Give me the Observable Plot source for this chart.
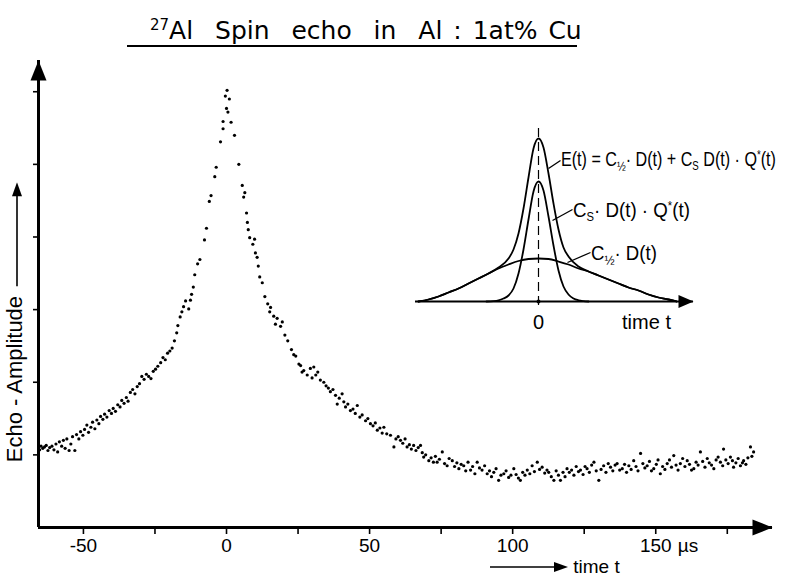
<!DOCTYPE html>
<html><head><meta charset="utf-8">
<script src="https://cdn.jsdelivr.net/npm/d3@7"></script>
<script src="https://cdn.jsdelivr.net/npm/@observablehq/plot@0.6"></script>
<style>
body{margin:0;background:#fff;}
#wrap{position:relative;width:788px;height:579px;overflow:hidden;font-family:"Liberation Sans",Arial,sans-serif;color:#000;background:#fff;}
#wrap svg.plot{position:absolute;overflow:visible;}
.lbl{position:absolute;white-space:nowrap;line-height:1;transform-origin:0 50%;}
sub{font-size:12px;vertical-align:-4px;}
sub.h{font-size:13px;vertical-align:-5px;}
sup{font-size:12px;vertical-align:7px;}
</style></head><body><div id="wrap"></div>
<script>
// ---- main data: echo amplitude (tick units) vs time (µs) ----
const leftT = [-65.3,-64.8,-64.2,-63.6,-63.0,-62.4,-61.8,-61.0,-60.3,-59.6,-59.0,-58.4,-57.6,-57.0,-56.4,-55.8,-55.0,-54.4,-53.8,-53.0,-52.4,-51.6,-51.0,-50.2,-49.6,-48.8,-48.2,-47.4,-46.8,-46.0,-45.3,-44.6,-44.0,-43.2,-42.6,-41.8,-41.0,-40.2,-39.6,-38.8,-38.0,-37.2,-36.6,-35.8,-35.0,-34.4,-33.6,-32.8,-32.0,-31.2,-30.4,-29.6,-28.8,-28.0,-27.2,-26.4,-25.6,-24.8,-24.0,-23.0,-22.2,-21.4,-20.6,-19.8,-19.0,-18.2,-17.4,-17.0,-16.2,-15.6,-15.0,-14.3];
const leftA = [1.07,1.12,1.09,1.11,1.13,1.06,1.10,1.12,1.07,1.15,1.04,1.18,1.12,1.20,1.09,1.22,1.06,1.15,1.25,1.06,1.28,1.22,1.32,1.27,1.35,1.41,1.31,1.38,1.45,1.36,1.48,1.43,1.53,1.49,1.56,1.52,1.61,1.57,1.64,1.60,1.69,1.66,1.75,1.71,1.79,1.74,1.86,1.90,1.84,1.94,1.98,2.08,2.04,2.11,2.08,2.05,2.15,2.18,2.22,2.27,2.34,2.31,2.40,2.43,2.47,2.57,2.68,2.78,2.90,2.97,3.04,3.12];
const peakT = [-13.2,-12.6,-12.2,-11.6,-11.1,-10.1,-9.3,-7.7,-7.0,-6.0,-5.4,-4.1,-3.6,-2.1,-1.2,-1.2,0.0,0.5,-0.4,0.2,1.0,1.6,2.8,4.3,5.5,6.0,6.4,7.0,7.3,7.6,8.1,9.2,9.8,10.1,10.7,11.1,11.6,12.5,13.4,14.4,15.1,15.4];
const peakA = [3.01,3.13,3.21,3.31,3.48,3.63,3.69,3.96,4.12,4.49,4.57,4.83,4.96,5.31,5.49,5.59,5.77,5.72,5.94,6.02,5.90,5.58,5.40,5.00,4.71,4.55,4.61,4.33,4.20,4.10,3.99,3.90,3.97,3.78,3.72,3.60,3.45,3.37,3.18,3.08,2.97,3.03];
const decayT = [16.5,17.1,17.7,18.9,19.5,20.4,21.4,22.7,23.5,24.2,25.3,25.9,26.4,27.0,28.2,29.3,29.9,30.5,31.2,31.9,32.8,34.0,34.8,35.6,36.3,37.2,38.1,38.7,39.4,40.4,41.0,41.6,42.4,43.3,44.2,45.0,45.7,46.6,47.4,48.6,49.4,50.3,51.2,52.0,52.7,53.6,54.4,55.0,56.0,57.3,58.5,59.2,60.0,60.8,61.6,62.4,63.1,63.9,64.6,65.4,66.2,67.0,67.8,68.4,68.9,69.6];
const decayA = [2.91,2.80,2.88,2.77,2.83,2.65,2.57,2.45,2.38,2.36,2.25,2.23,2.14,2.16,2.10,2.19,2.06,2.21,2.10,2.14,2.03,2.00,1.95,1.92,1.87,1.90,1.82,1.70,1.78,1.84,1.73,1.66,1.70,1.61,1.63,1.57,1.68,1.52,1.55,1.47,1.50,1.43,1.40,1.44,1.34,1.37,1.30,1.38,1.29,1.27,1.11,1.22,1.25,1.20,1.16,1.22,1.11,1.14,1.08,1.13,1.06,1.10,1.13,1.03,0.97,1.00];
const tailT = [70.7,71.5,72.3,73.0,73.6,74.4,75.4,76.2,77.1,77.8,78.9,79.7,80.5,81.2,82.0,82.9,83.6,84.4,85.3,86.0,86.8,87.6,88.4,89.3,90.2,91.1,91.9,92.6,93.4,94.2,95.1,95.9,96.9,97.7,98.6,99.4,100.4,101.2,102.0,102.7,103.5,104.3,105.1,106.0,106.8,107.6,108.6,109.4,110.3,111.2,112.0,112.6,113.5,114.4,115.2,116.0,116.7,117.6,118.3,119.0,119.8,120.6,121.4,122.2,123.0,123.7,124.6,125.3,126.0,126.8,127.6,128.4,129.2,130.1,130.9,131.8,132.6,133.4,134.2,135.0,135.8,136.5,137.4,138.3,139.1,139.8,140.6,141.4,142.3,143.1,143.8,144.7,145.5,146.2,147.0,147.8,148.5,149.3,150.2,150.8,151.6,152.4,153.2,154.0,154.8,155.5,156.3,157.1,157.8,158.6,159.4,160.2,161.0,161.8,162.5,163.3,164.1,164.8,165.6,166.4,167.2,168.0,168.7,169.5,170.3,171.1,171.8,172.6,173.4,173.7,174.5,175.3,176.1,176.8,177.2,178.0,178.8,179.6,180.3,180.7,181.5,182.2,183.1,183.6,184.2];
const tailA = [0.92,0.96,0.90,0.98,0.90,0.94,1.04,0.88,0.85,0.95,0.92,0.84,0.89,0.81,0.87,0.85,0.78,0.90,0.79,0.84,0.74,0.90,0.82,0.79,0.85,0.74,0.78,0.70,0.76,0.81,0.65,0.72,0.74,0.78,0.69,0.72,0.81,0.73,0.68,0.65,0.76,0.72,0.79,0.74,0.85,0.77,0.90,0.80,0.83,0.75,0.79,0.76,0.70,0.65,0.78,0.72,0.65,0.76,0.70,0.81,0.76,0.79,0.72,0.84,0.77,0.79,0.73,0.84,0.81,0.76,0.86,0.90,0.78,0.65,0.80,0.85,0.76,0.88,0.83,0.78,0.86,0.88,0.79,0.81,0.87,0.76,0.85,0.80,0.92,0.84,0.78,1.02,0.88,0.82,0.85,0.91,0.78,0.81,0.87,0.93,0.74,0.84,0.80,0.88,0.93,0.83,0.99,0.86,0.79,0.88,0.95,0.84,0.92,0.87,0.79,0.81,0.90,0.86,1.04,0.91,0.83,0.95,0.89,0.86,0.81,0.93,0.97,0.90,0.85,1.08,0.93,0.88,0.97,0.92,0.83,0.89,0.95,0.85,0.89,0.92,0.87,0.96,1.11,0.98,1.04];

// axes
const xTicks = [-50,-25,0,25,50,75,100,125,150,175];
const xLabeled = [-50,0,50,100,150];
const yTicks = [1,2,3,4,5,6];
const xDomain = [-65.7, 190.8];
const yDomain = [0, 6.43];

// ---- inset schematic (offset px-units, height units) ----
const broadT = [-120,-110,-100,-90,-80,-70,-60,-50,-40,-30,-20,-10,0,10,20,30,40,50,60,70,80,90,100,110,120,130,138];
const broadV = [0,2,5,9,13,18,23,28,33,37,40.5,42.5,43,42.5,40,37,33,30,26,22,18,14,11,7,4,2,0];
const narrowT = [-52,-45,-40,-35,-30,-25,-20,-15,-10,-5,0,5,10,15,20,25,30,35,40,45,50];
const narrowV = [0,0.4,1.2,3,6,13,28,52,82,110,120,111,85,56,31,15,7,3,1.2,0.4,0];
const echoT = [-120,-110,-100,-90,-80,-70,-60,-50,-40,-30,-25,-20,-15,-10,-5,0,5,10,15,20,25,30,40,50,60,70,80,90,100,110,120,130,138];
const echoV = [0,2,5,9,13,18,23,28,34,43,52,68,93,124,153,163,154,128,98,72,54,45,35,30,26,22,18,14,11,7,4,2,0];
const insetX = [-123, 155];
const insetY = [0, 181];

const mk = (T, V) => T.map((t, i) => ({t, v: V[i]}));
const points = [...mk(leftT,leftA), ...mk(peakT,peakA), ...mk(decayT,decayA), ...mk(tailT,tailA)];

const arrowHead = {draw(ctx){ ctx.moveTo(0,0); ctx.lineTo(-20,-8); ctx.lineTo(-20,8); ctx.closePath(); }};
const smallHead = {draw(ctx){ ctx.moveTo(0,0); ctx.lineTo(-15,-6.5); ctx.lineTo(-15,6.5); ctx.closePath(); }};

const wrap = document.getElementById("wrap");
const font = "'Liberation Sans', Arial, sans-serif";

const main = Plot.plot({
  width: 788, height: 579,
  marginTop: 60, marginBottom: 52, marginLeft: 38, marginRight: 16,
  x: {domain: xDomain, label: null},
  y: {domain: yDomain, label: null},
  style: {background: "transparent", fontFamily: font, color: "#000", overflow: "visible"},
  marks: [
    Plot.axisX({ticks: xTicks, tickSize: 7, tickPadding: 4, strokeWidth: 1.6, fontSize: 19,
      tickFormat: d => xLabeled.includes(d) ? String(d) : ""}),
    Plot.axisY({ticks: yTicks, tickSize: 5, strokeWidth: 1.6, tickFormat: () => ""}),
    Plot.text([150], {x: d => d, y: () => 0, text: () => "µs", dx: 22, dy: 11, lineAnchor: "top", textAnchor: "start", fontSize: 19}),
    Plot.ruleY([0], {strokeWidth: 3}),
    Plot.ruleX([xDomain[0]], {strokeWidth: 3}),
    Plot.dot([{x: xDomain[1], y: 0}], {x: "x", y: "y", symbol: arrowHead, fill: "#000", r: 8}),
    Plot.dot([{x: xDomain[0], y: yDomain[1]}], {x: "x", y: "y", symbol: arrowHead, fill: "#000", r: 8, rotate: -90}),
    Plot.dot(points, {x: "t", y: "v", r: 1.6, fill: "#000", stroke: "none"})
  ]
});
main.classList.add("plot");
main.style.left = "0px"; main.style.top = "0px";
wrap.appendChild(main);

const inset = Plot.plot({
  width: 388, height: 225,
  marginLeft: 15, marginRight: 95, marginTop: 10, marginBottom: 34,
  x: {domain: insetX, axis: null},
  y: {domain: insetY, axis: null},
  style: {background: "transparent", fontFamily: font, color: "#000", overflow: "visible"},
  marks: [
    Plot.ruleY([0], {strokeWidth: 2}),
    Plot.ruleX([0], {y1: -4, y2: 173, strokeDasharray: "9,5", strokeWidth: 1.2}),
    Plot.line(mk(broadT, broadV), {x: "t", y: "v", curve: "monotone-x", strokeWidth: 1.8}),
    Plot.line(mk(narrowT, narrowV), {x: "t", y: "v", curve: "monotone-x", strokeWidth: 1.8}),
    Plot.line(mk(echoT, echoV), {x: "t", y: "v", curve: "monotone-x", strokeWidth: 1.8}),
    Plot.dot([{x: 0, y: 0}], {x: "x", y: "y", r: 2, fill: "#000"}),
    Plot.dot([{x: insetX[1], y: 0}], {x: "x", y: "y", symbol: smallHead, fill: "#000", r: 6}),
    Plot.link([{x1: 10, y1: 133, x2: 22, y2: 141}, {x1: 14, y1: 81, x2: 34, y2: 92}, {x1: 29, y1: 39, x2: 52, y2: 49}],
      {x1: "x1", y1: "y1", x2: "x2", y2: "y2", strokeWidth: 1.3}),
    Plot.text([{x: 0, s: "0"}, {x: 108, s: "time t"}], {x: "x", y: () => 0, text: "s", dy: 13, lineAnchor: "top", fontSize: 20})
  ]
});
inset.classList.add("plot");
inset.style.left = "400px"; inset.style.top = "110px";
wrap.appendChild(inset);

function addLabel(html, css) {
  const d = document.createElement("div");
  d.className = "lbl";
  d.innerHTML = html;
  Object.assign(d.style, css);
  wrap.appendChild(d);
  return d;
}
// squeeze/stretch a label horizontally to the width it has in the figure
function fit(el, w) {
  el.style.transform = `scaleX(${w / el.offsetWidth})`;
}
const half = '<sub class="h">½</sub>';
fit(addLabel(`E(t) = C${half}· D(t) + C<sub>S</sub> D(t) · Q<sup>*</sup>(t)`, {left: "561px", top: "149px", fontSize: "20px"}), 215);
fit(addLabel(`C<sub>S</sub>· D(t) · Q<sup>*</sup>(t)`, {left: "573px", top: "200px", fontSize: "20px"}), 117);
fit(addLabel(`C${half}· D(t)`, {left: "591px", top: "243px", fontSize: "20px"}), 66);

// title
const title = addLabel('<sup style="font-size:15px;vertical-align:9px">27</sup>Al&nbsp; Spin&nbsp; echo&nbsp; in&nbsp; Al : 1at% Cu',
  {left: "150px", top: "18px", fontSize: "25px", fontFamily: "'DejaVu Sans', sans-serif"});
{ const gap = (423 - title.offsetWidth) / 8; title.style.wordSpacing = gap + "px"; }
addLabel('', {left: "127px", top: "45px", width: "450px", height: "2px", background: "#000"});

// y label
const ylab = addLabel('Echo - Amplitude <svg width="108" height="14" style="vertical-align:-2px"><line x1="4" y1="7" x2="96" y2="7" stroke="#000" stroke-width="1.6"/><path d="M108,7 L94,2 L94,12 Z" fill="#000"/></svg>',
  {left: "15px", top: "322px", fontSize: "22px", transformOrigin: "50% 50%"});
ylab.style.transform = "translate(-50%,-50%) rotate(-90deg)";
// x label
addLabel('<svg width="78" height="14" style="vertical-align:-1px"><line x1="0" y1="7" x2="66" y2="7" stroke="#000" stroke-width="1.6"/><path d="M78,7 L64,2 L64,12 Z" fill="#000"/></svg> time t',
  {left: "490px", top: "557px", fontSize: "19px"});
</script></body></html>
